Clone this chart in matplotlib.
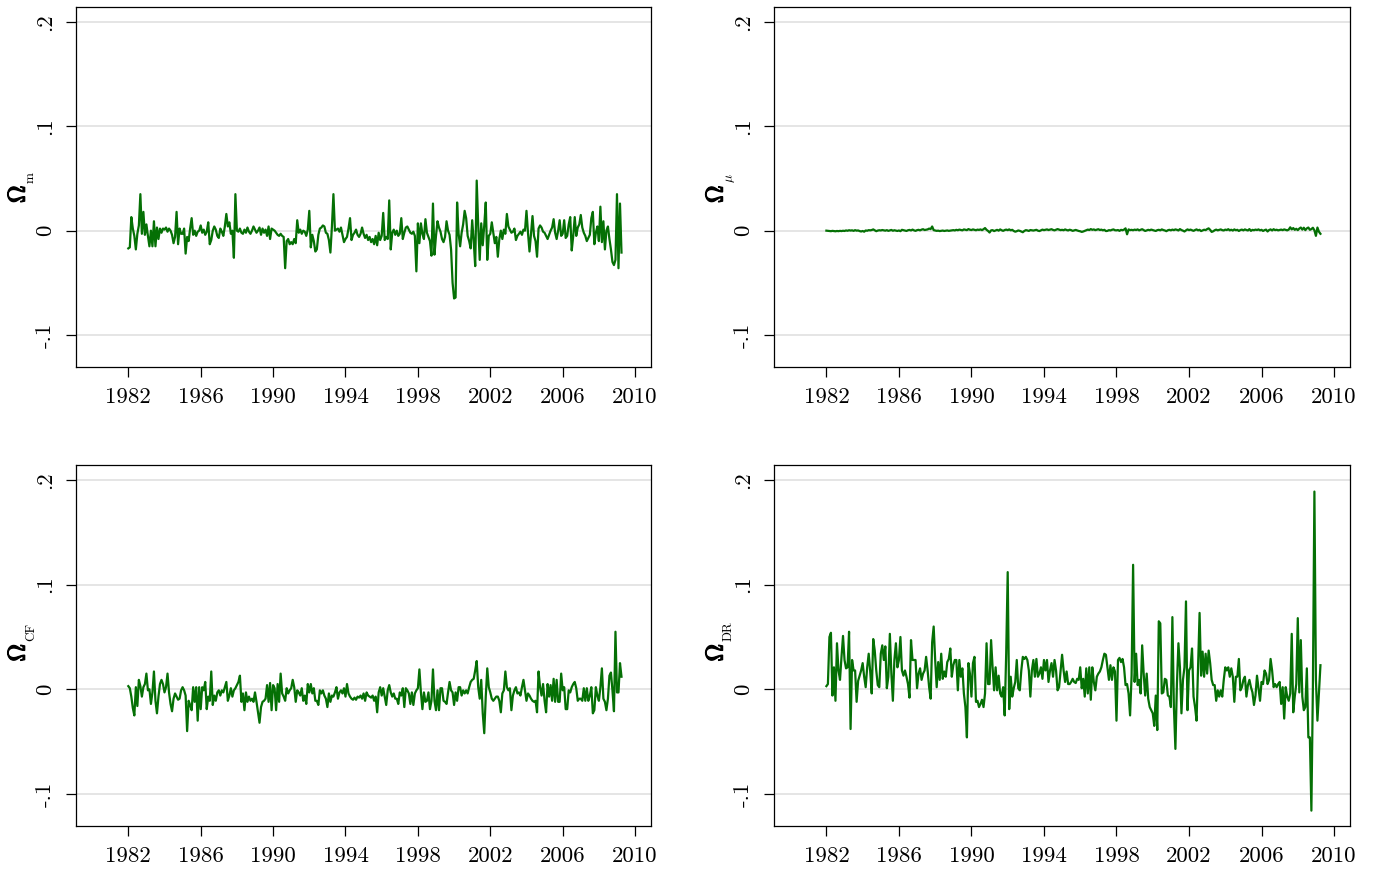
import numpy as np
import pandas as pd
import matplotlib
matplotlib.use("Agg")
import matplotlib.pyplot as plt
import matplotlib.patheffects as pe

# monthly sample, 1982m1 - 2009m4
months = pd.period_range("1982-01", "2009-04", freq="M")

# values, in thousandths (omega_mu in 1e-4)
omega_m = [
    -17, -16, 13, 2, -5, -18, -3, 5, 35, -3, 18, -4,
    6, -5, -15, 0, -15, 9, -15, 3, -8, 2, -2, 2,
    1, 3, -1, 2, 0, -4, -12, -6, 18, -13, 2, -3,
    -3, 2, -22, -6, -10, 2, 12, -4, 0, -5, -1, 0,
    5, -2, 1, -4, -1, 8, -13, -9, 0, 4, 1, -5,
    -7, 2, -1, -5, 4, 16, 4, 8, -3, 0, -26, 35,
    0, -1, 2, -2, -3, 1, -2, 3, -1, -3, 0, 4,
    1, -2, 0, 3, -4, 2, -2, 1, -5, 4, -8, 2,
    1, 0, -2, -4, -5, -3, -5, -6, -36, -10, -8, -13,
    -11, -13, -8, -12, 10, -2, 1, -3, 0, -1, -5, 1,
    19, -16, -4, -10, -20, -18, -4, 2, 3, 5, 4, -2,
    -3, -9, -21, 4, 35, 0, 1, 2, -1, 3, -4, -11,
    -8, -6, 2, 12, -9, -4, -2, 1, -4, -6, -3, 3,
    -3, -7, -4, -9, -6, -11, -8, -13, -5, -14, -2, -9,
    -5, 17, -9, -6, -8, 29, -18, -2, 1, -4, 0, -5,
    -3, 12, -8, -2, 3, 4, 1, -2, -3, -1, -5, -39,
    7, -12, 7, -3, -8, 11, -2, -6, -10, -24, 26, -23,
    -5, 9, 3, -1, -8, -11, -6, 9, 0, -4, -18, -50,
    -65, -64, 27, -3, -15, -2, 6, 19, 12, -5, -10, -17,
    10, -10, -34, 48, 5, -28, 7, -14, 5, 27, -28, -5,
    -3, 8, -2, -12, -6, -25, -8, 0, -8, 1, -3, 16,
    4, 1, -2, -1, 2, -9, -5, -3, -1, -4, 1, 0,
    19, -2, -20, -3, 14, -5, -10, -25, 2, 5, 3, -1,
    -2, -5, -8, -4, 0, 3, 11, -2, -8, 0, 10, -5,
    -3, 10, -7, -5, 6, 13, -19, -5, 13, -5, 3, 6,
    15, 3, -2, -5, -10, -7, -4, 12, 18, -13, -2, 4,
    -10, 23, -11, 9, -18, 0, 4, -8, -18, -30, -33, -28,
    35, -36, 26, -21,
]

omega_mu_e4 = [
    0, -2, -3, -5, -2, -4, -6, -3, -5, -2, -4, -1,
    -3, 2, -1, 4, 1, 3, -2, 5, 0, 2, -4, -8,
    -3, -10, 2, -1, 5, 3, 6, 12, 3, -5, 1, 4,
    2, 6, 3, 0, 5, -2, 3, 7, -1, 4, 1, -3,
    2, -5, 8, 5, 1, -3, 4, 7, 2, 10, 3, -2,
    5, 8, 3, 10, 14, 6, 9, 12, 20, 15, 40, 5,
    2, -2, 0, -4, -2, 1, -3, -1, 2, -2, 0, 3,
    5, 2, 8, 4, 10, 6, 3, 12, 8, 5, 15, 9,
    6, 12, 8, 4, 10, 7, 12, 5, 14, 25, 8, -3,
    -18, 3, 5, -4, 2, 8, 0, 12, 4, -2, 6, 10,
    5, 12, 3, 8, -3, -10, -5, 2, -2, -8, -15, -3,
    5, 2, -3, 6, 3, 1, 5, 8, 0, -4, 3, 10,
    5, 8, 12, 6, 10, 14, 7, 3, 9, 15, 10, 5,
    8, 4, 12, 6, 2, 9, 5, -2, 3, 7, 2, -3,
    -6, -12, -8, -2, 4, 10, 6, 15, 8, 12, 5, 9,
    14, 6, 10, 3, 8, -4, -2, 5, 2, 8, 12, 4,
    3, 6, -2, 8, 4, 10, 22, -35, 12, 5, 8, 4,
    10, 6, 12, 3, 8, 14, 5, -3, 2, 8, 4, 10,
    6, 2, -3, 5, 8, 3, 12, 6, 2, -5, 4, 8,
    3, 10, 5, 12, 8, 2, 15, 6, 0, -8, 3, 12,
    5, 10, 4, -2, 6, 12, 3, 8, -4, 2, 9, 5,
    15, 22, 8, -12, -6, 4, 10, 3, 8, 12, 5, 2,
    10, 6, 14, 3, 9, 1, 12, 4, 8, -3, 6, 10,
    3, 12, 6, 2, 15, -2, 8, 4, 10, 6, 12, 3,
    8, -3, 5, 10, -8, 6, 12, 2, 14, 5, 9, 3,
    7, 10, 5, 12, 8, 3, 10, 32, 12, 25, 8, 18,
    5, 20, 30, 10, 28, 5, 22, 30, 8, 15, 28, 3,
    -50, 30, -10, -30,
]

omega_cf = [
    3, 1, -7, -18, -25, 2, -16, 9, 3, -7, 2, 5,
    15, -1, 0, -14, -3, 17, -11, -23, -7, 5, 9, 5,
    -3, 2, 15, -3, -14, -21, -9, -4, -7, -10, -9, -1,
    2, -1, -6, -40, -11, -15, -20, 2, -12, 2, -30, 2,
    -19, 2, -1, 7, -19, -7, -11, 17, -15, -6, -11, -3,
    -1, -6, -1, -3, 2, 7, -11, -6, 1, -7, -1, 1,
    4, 7, 13, -12, -4, -20, -3, -12, -7, -11, -9, -12,
    -3, -12, -22, -32, -17, -12, -11, -9, 4, -12, 6, -20,
    4, 1, -20, 5, -12, 15, -4, -7, -11, 1, -4, -1,
    1, 9, 2, -12, -1, -3, -6, 1, -11, -6, -14, 5,
    -3, 5, -4, 1, -11, -11, -15, -1, -4, -1, -6, -9,
    -17, -4, -12, -6, -7, -3, 2, -9, -3, -1, -4, 1,
    -7, 5, -4, -7, -9, -10, -8, -10, -7, -8, -6, -9,
    -4, -11, -3, -6, -7, -8, -6, -11, -7, -22, -3, 2,
    -6, 1, -7, -15, -1, 4, -3, -7, -4, -9, -9, -14,
    -3, -6, 1, -17, 1, -1, -4, -14, -3, -15, -4, -1,
    1, 19, -3, -19, -3, -12, -11, -3, -19, -11, 19, -11,
    -20, -1, -20, 1, 1, -11, -12, -14, -3, 7, -1, -3,
    -15, -3, -11, 2, 2, -6, -1, -4, -1, -4, 2, 7,
    9, 10, 18, 27, 2, -9, 9, -23, -42, -7, 20, 2,
    -3, -9, -11, -9, -7, -7, -11, -22, -4, -1, 17, 2,
    -1, 1, -20, -6, -1, 2, -4, -3, -6, 2, 9, -1,
    -11, -4, -6, -9, -11, -12, -11, -22, 17, 2, -6, 5,
    -11, -22, 5, -7, 4, -11, 10, -12, 9, -12, -12, 15,
    -1, 2, -19, -19, -1, -3, 2, 5, 7, 1, -11, -9,
    -9, -11, 1, -11, 1, -11, -6, 2, -23, -20, 2, -6,
    -11, 2, 20, -9, -12, -20, -9, 13, 16, -1, -21, 55,
    -3, -3, 25, 12,
]

omega_dr = [
    3, 5, 50, 54, -6, 21, -11, 44, 18, 9, 31, 51,
    28, 20, 21, 55, -38, 28, 18, 18, -12, 8, 13, 18,
    25, 12, 2, 21, 34, 17, -4, 48, 37, 18, 4, 2,
    34, 42, 28, 41, 1, 12, 53, 15, -11, 28, 44, 21,
    28, 50, 18, 13, 18, 12, 5, -8, 47, 28, 28, 28,
    1, 15, 20, 9, 15, 18, 31, 18, 2, -9, 45, 60,
    28, 2, 26, 9, 34, 10, 17, 12, 26, 29, 39, 12,
    23, 28, 28, -1, 28, 12, 20, -4, -17, -46, 25, 15,
    -7, 25, 31, -12, -11, -17, -14, -10, -17, -4, 44, 5,
    5, 47, 21, -1, 21, -1, 13, -4, -7, 2, -25, 34,
    112, -19, 12, -7, 1, 7, 28, 1, -1, 18, 31, 29,
    31, 28, 18, -7, 18, 28, 12, 29, 12, 15, 21, 10,
    28, 18, 28, 7, 18, 25, 12, 28, 18, -1, 2, 18,
    33, 18, 7, 17, 5, 5, 7, 10, 7, 6, 10, 9,
    21, 1, 10, -7, 20, -4, 21, -10, 21, 7, -1, 12,
    15, 17, 21, 28, 34, 33, 21, 9, 23, 9, 21, 17,
    -30, 28, 30, 26, 29, 21, 4, 5, -4, -25, 13, 119,
    7, 34, 4, 9, -4, 42, 15, -6, 15, -9, -17, -20,
    -23, -35, -6, -39, 65, 63, -4, -3, 10, 9, -6, -7,
    -17, 69, -17, -57, 5, 44, 21, -23, 9, 21, 84, -20,
    18, 21, 39, -7, -17, -30, 21, 73, 13, 36, 12, 34,
    15, 37, 25, 9, 4, 4, -11, -1, -7, -1, -7, 9,
    21, 18, 21, 12, 20, 12, -12, 12, 12, 29, -1, 2,
    9, 12, -7, 4, 9, 2, -3, -15, -6, 13, 1, -11,
    7, 5, 18, 15, 5, 9, 29, 18, 2, 5, 2, 5,
    7, -14, 2, -28, 2, -7, -11, -4, 53, -22, -7, 5,
    68, -3, 47, -7, -20, -17, 20, -46, -46, -116, 2, 189,
    9, -30, -4, 23,
]

label_subs = [r"m", r"$\mu$", r"CF", r"DR"]
yticks = [-0.1, 0.0, 0.1, 0.2]
ytick_labels = ["-.1", "0", ".1", ".2"]
xticks = [1982, 1986, 1990, 1994, 1998, 2002, 2006, 2010]

plt.rcParams["font.family"] = "cmr10"
plt.rcParams["mathtext.fontset"] = "cm"
plt.rcParams["axes.unicode_minus"] = False

x = months.year + (months.month - 1) / 12.0
series = [np.array(omega_m) / 1000.0, np.array(omega_mu_e4) / 10000.0,
          np.array(omega_cf) / 1000.0, np.array(omega_dr) / 1000.0]

W, H = 1377, 871
fig = plt.figure(figsize=(W / 100, H / 100), dpi=100)
fig.patch.set_facecolor("white")

# axes boxes in pixels: left, top, right, bottom
boxes = [(76, 7, 651, 367), (774, 7, 1350, 367),
         (76, 465, 651, 826), (774, 465, 1350, 826)]

for y, sub, (l, t, r, b) in zip(series, label_subs, boxes):
    ax = fig.add_axes([l / W, 1 - b / H, (r - l) / W, (b - t) / H])
    ax.plot(x, y, color="#057005", lw=1.6, zorder=3)
    ax.set_xlim(1979.11, 2010.88)
    ax.set_ylim(-0.1307, 0.2144)
    ax.set_yticks(yticks)
    ax.set_yticklabels(ytick_labels)
    ax.set_xticks(xticks)
    ax.set_xticklabels([str(v) for v in xticks])
    ax.grid(axis="y", color="#e3e3e3", lw=1.3, zorder=0)
    ax.set_axisbelow(True)
    for sp in ax.spines.values():
        sp.set_linewidth(0.9)
    ax.tick_params(direction="out", length=7, width=0.9, labelsize=16.5, pad=8)
    for tl in ax.get_yticklabels():
        tl.set_rotation(90)
        tl.set_va("center")

    # y title: bold Omega with a small plain subscript
    ax.text(-0.089, 0.481, r"$\Omega$", transform=ax.transAxes, fontsize=17.5,
            rotation=90, rotation_mode="anchor", ha="center", va="baseline",
            path_effects=[pe.withStroke(linewidth=0.9, foreground="black")])
    ax.text(-0.073, 0.512, sub, transform=ax.transAxes, fontsize=9.5,
            rotation=90, rotation_mode="anchor", ha="left", va="baseline")

fig.savefig("out.png", dpi=100, facecolor="white")
